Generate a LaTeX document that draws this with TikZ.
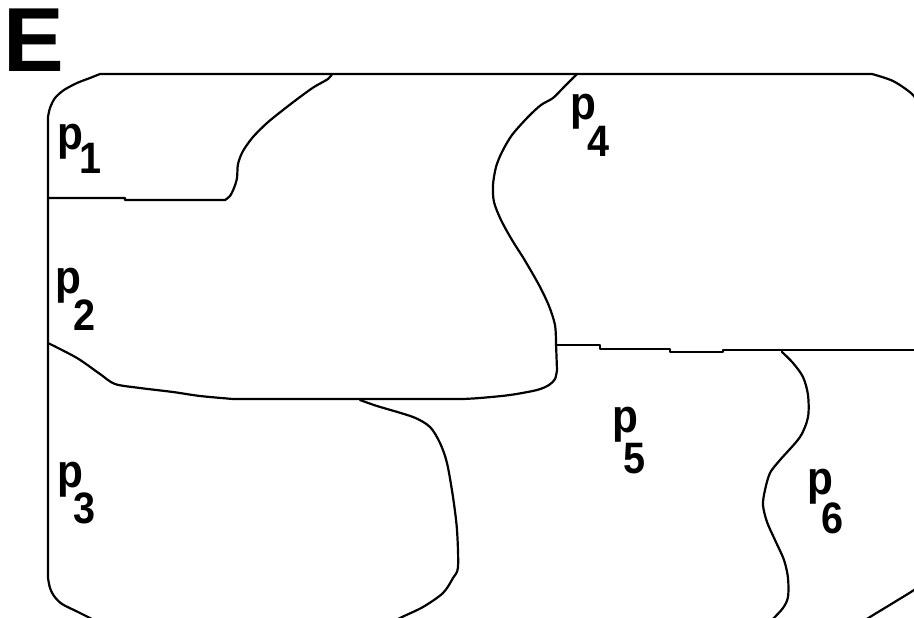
\documentclass[tikz,border=0pt]{standalone}
\usepackage{fontspec}
\setmainfont{Liberation Sans}
\newcommand\plab[3]{\scalebox{0.9}[1]{\fontsize{47}{47}\selectfont\bfseries p}\kern#2\raisebox{#3}{\scalebox{0.9}[1]{\fontsize{44}{44}\selectfont\bfseries #1}}}
\begin{document}
\begin{tikzpicture}[x=1pt,y=-1pt,
  edge/.style={line width=2.2pt, line join=round, line cap=round, black},
  lbl/.style={anchor=base west, inner sep=0pt, text=black}]
\useasboundingbox (0,0) rectangle (914,618);
\clip (0,0) rectangle (914,618);
% panel letter
\node[lbl] (E) at (3.4,72) {\fontsize{91}{91}\selectfont\bfseries E};
% outer boundary
\draw[edge] plot[smooth] coordinates {(935,130) (922,108) (912,94) (893,81) (872,74)}
  -- (100,74)
  -- plot[smooth] coordinates {(100,74) (90,78) (77,83) (64,90) (55,98) (50,108) (48,117)}
  -- (48,578)
  -- plot[smooth] coordinates {(48,578) (50,588) (54,596) (62,604) (78,612) (104,625)};
\draw[edge] plot[smooth] coordinates {(935,575) (914,590) (893,603) (870,617) (855,627)};
% p1 / p2
\draw[edge] (48,198) -- (125,198) -- (125,200) -- (225,200)
  -- plot[smooth] coordinates {(225,200) (230,196) (234,188) (237,178) (238,164) (243,151) (253,137) (267,123) (283,110) (300,97) (314,87) (328,79) (332,74)};
% p4 west boundary
\draw[edge] plot[smooth] coordinates {(577,74) (564,87) (553,98) (541,105) (528,117) (512,135) (502,152) (496,167) (493,185) (494,202) (501,220) (512,240) (524,259) (539,285) (549,306) (555,325) (556,343)}
  -- (557,370);
% p2 / p3 and p2 / p5
\draw[edge] plot[smooth] coordinates {(557,370) (555,379) (549,385) (537,390) (510,395) (480,398) (463,399)}
  -- (233,399)
  -- plot[smooth, tension=0.5] coordinates {(233,399) (200,396) (173,392) (140,388) (115,384) (100,374) (77,358) (48,343)};
% p3 / p5
\draw[edge] plot[smooth] coordinates {(360,400) (377,406) (413,417) (430,427) (440,443) (447,463) (453,497) (457,530) (458,567) (453,578) (443,593) (423,607) (400,618) (388,625)};
% p4 / p5
\draw[edge] (557,345) -- (600,345) -- (600,349) -- (670,349) -- (670,352) -- (723,352) -- (723,350) -- (920,350);
% p5 / p6
\draw[edge] plot[smooth] coordinates {(782,352) (793,363) (803,377) (808,395) (808,417) (800,437) (780,460) (770,473) (765,490) (763,505) (767,522) (775,540) (784,560) (788,578) (788,597) (783,608) (772,620) (765,628)};
% labels
\node[lbl] (p1) at (57.2,149.4) {\plab{1}{-3.4pt}{-23.6pt}};
\node[lbl] (p2) at (55.2,293.4) {\plab{2}{-7.5pt}{-36.6pt}};
\node[lbl] (p3) at (57.2,487.4) {\plab{3}{-9.5pt}{-35.6pt}};
\node[lbl] (p4) at (570.2,119.4) {\plab{4}{-8.8pt}{-37.6pt}};
\node[lbl] (p5) at (612.2,432.4) {\plab{5}{-14.5pt}{-40.6pt}};
\node[lbl] (p6) at (807.2,494.4) {\plab{6}{-11.5pt}{-38.6pt}};
\end{tikzpicture}
\end{document}
